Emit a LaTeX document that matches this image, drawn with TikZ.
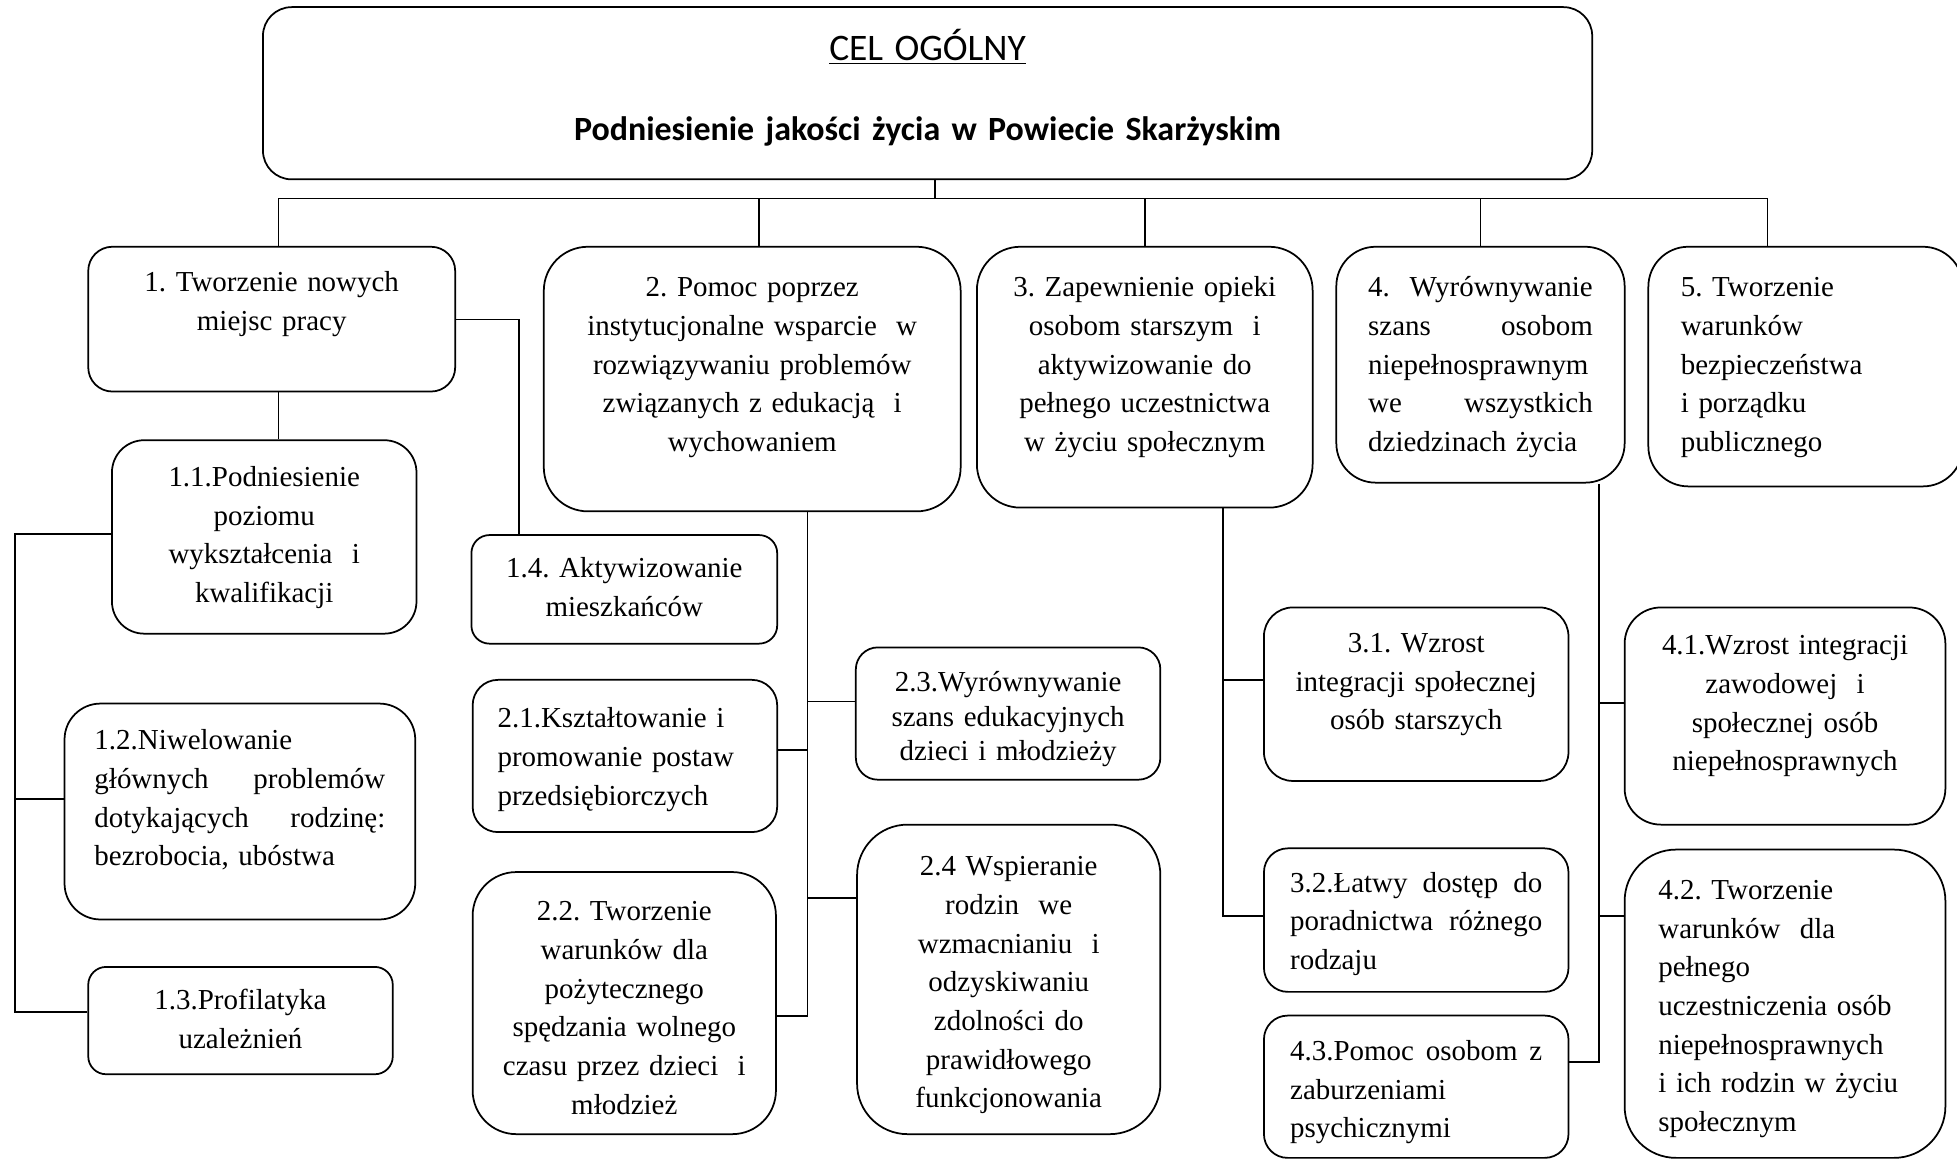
\documentclass[tikz,border=0pt]{standalone}
\usepackage{fontspec}
\setmainfont{Liberation Serif}
\newfontfamily\calibri{Carlito}
\frenchspacing
\tikzset{
    box/.style n args = {3}{draw, line width = 0.7pt, inner sep = 0pt, align = center,
        anchor = north west, font = \fontsize{11.6pt}{15.5pt}\selectfont,
        minimum width = #1*0.5pt, text width = #1*0.5pt-16pt,
        text height = #3*0.5pt, text depth = (#2-#3)*0.5pt,
        rounded corners = {min(#1,#2)/12*1pt}},
    goal/.style = {font = \calibri\fontsize{13.6pt}{13.6pt}\selectfont}
}
\begin{document}
\begin{tikzpicture}[x = 0.5pt, y = -0.5pt]
        \useasboundingbox (0,0) rectangle (1568,928);
        \node[box = {1065}{138}{42.5}, goal] (cel) at (210,5)
            {{\fontsize{15pt}{15pt}\selectfont\underline{CEL OGÓLNY}}\\[18.65pt]
             \textbf{Podniesienie jakości życia w Powiecie Skarżyskim}};
        \node[box = {294}{116}{36}] (c1) at (70,197) {1. Tworzenie nowych\\miejsc pracy};
        \node[box = {334}{212}{40}] (c2) at (435,197)
            {2. Pomoc poprzez\\instytucjonalne wsparcie\ \ w\\rozwiązywaniu problemów\\związanych z edukacją\ \ i\\wychowaniem};
        \node[box = {269}{209}{40}] (c3) at (782,197)
            {3. Zapewnienie opieki\\osobom starszym\ \ i\\aktywizowanie do\\pełnego uczestnictwa\\w życiu społecznym};
        \node[box = {231}{189}{40}, align = left, text width = 90pt] (c4) at (1070,197)
            {4.\hfill Wyrównywanie\\szans\hfill osobom\\niepełnosprawnym\\we\hfill wszystkich\\dziedzinach życia};
        \node[box = {252}{192}{40}, align = left, text width = 100pt] (c5) at (1320,197)
            {5. Tworzenie\\warunków\\bezpieczeństwa\\i porządku\\publicznego};
        \node[box = {244}{155}{37}] (c11) at (89,352)
            {1.1.Podniesienie\\poziomu\\wykształcenia\ \ i\\kwalifikacji};
        \node[box = {245}{87}{34}] (c14) at (377,428) {1.4. Aktywizowanie\\mieszkańców};
        \node[box = {281}{173}{37}, align = left, text width = 116.5pt] (c12) at (51,563)
            {1.2.Niwelowanie\\głównych\hfill problemów\\dotykających\hfill rodzinę:\\bezrobocia, ubóstwa};
        \node[box = {244}{86}{34}] (c13) at (70,774) {1.3.Profilatyka\\uzależnień};
        \node[box = {244}{122}{38.5}, align = left, text width = 102pt] (c21) at (378,544)
            {2.1.Kształtowanie i\\promowanie postaw\\przedsiębiorczych};
        \node[box = {243}{210}{39}] (c22) at (378,698)
            {2.2. Tworzenie\\warunków dla\\pożytecznego\\spędzania wolnego\\czasu przez dzieci\ \ i\\młodzież};
        \node[box = {244}{106}{35}, font = \fontsize{11.6pt}{14pt}\selectfont] (c23) at (685,518)
            {2.3.Wyrównywanie\\szans edukacyjnych\\dzieci i młodzieży};
        \node[box = {243}{248}{41}] (c24) at (686,660)
            {2.4 Wspieranie\\rodzin\ \ we\\wzmacnianiu\ \ i\\odzyskiwaniu\\zdolności do\\prawidłowego\\funkcjonowania};
        \node[box = {244}{139}{36}] (c31) at (1012,486)
            {3.1. Wzrost\\integracji społecznej\\osób starszych};
        \node[box = {244}{115}{35}, align = left, text width = 101pt] (c32) at (1012,679)
            {3.2.Łatwy\hfill dostęp\hfill do\\poradnictwa\hfill różnego\\rodzaju};
        \node[box = {244}{114}{36}, align = left, text width = 101pt] (c43) at (1012,813)
            {4.3.Pomoc\hfill osobom\hfill z\\zaburzeniami\\psychicznymi};
        \node[box = {257}{174}{38}] (c41) at (1301,486)
            {4.1.Wzrost integracji\\zawodowej\ \ i\\społecznej osób\\niepełnosprawnych};
        \node[box = {257}{247}{40}, align = left, text width = 101.5pt] (c42) at (1301,680)
            {4.2. Tworzenie\\warunków\ \ dla\\pełnego\\uczestniczenia osób\\niepełnosprawnych\\i ich rodzin w życiu\\społecznym};
        \begin{scope}[line width = 0.65pt]
            \coordinate (hub) at (749,159);
            \coordinate (busL) at (223,159);
            \coordinate (busR) at (1416,159);
            \coordinate (d2) at (608,159);
            \draw (cel.south -| hub) -- (hub);
            \draw (busL) -- (busR);
            \draw (busL) -- (busL |- c1.north);
            \draw (d2) -- (d2 |- c2.north);
            \draw (c3.north |- hub) -- (c3.north);
            \draw (c4.north |- hub) -- (c4.north);
            \draw (busR) -- (busR |- c5.north);
            \coordinate (j14) at (416,256);
            \coordinate (j11) at (12,428);
            \coordinate (j12) at (12,640);
            \coordinate (j13) at (12,811);
            \draw (busL |- c1.south) -- (busL |- c11.north);
            \draw (j14 -| c1.east) -- (j14) -- (j14 |- c14.north);
            \draw (j11 -| c11.west) -- (j11) -- (j13) -- (j13 -| c13.west);
            \draw (j12) -- (j12 -| c12.west);
            \coordinate (j23) at (647,562);
            \coordinate (j21) at (647,601);
            \coordinate (j24) at (647,719.5);
            \coordinate (j22) at (647,814);
            \draw (j22 |- c2.south) -- (j22) -- (j22 -| c22.east);
            \draw (j23) -- (j23 -| c23.west);
            \draw (j21) -- (j21 -| c21.east);
            \draw (j24) -- (j24 -| c24.west);
            \coordinate (j31) at (980,545);
            \coordinate (j32) at (980,734);
            \draw (j32 |- c3.south) -- (j32) -- (j32 -| c32.west);
            \draw (j31) -- (j31 -| c31.west);
            \coordinate (j41) at (1281,563);
            \coordinate (j42) at (1281,734);
            \coordinate (j43) at (1281,851);
            \draw (j43 |- c4.south) -- (j43) -- (j43 -| c43.east);
            \draw (j41) -- (j41 -| c41.west);
            \draw (j42) -- (j42 -| c42.west);
        \end{scope}
    \end{tikzpicture}
\end{document}
